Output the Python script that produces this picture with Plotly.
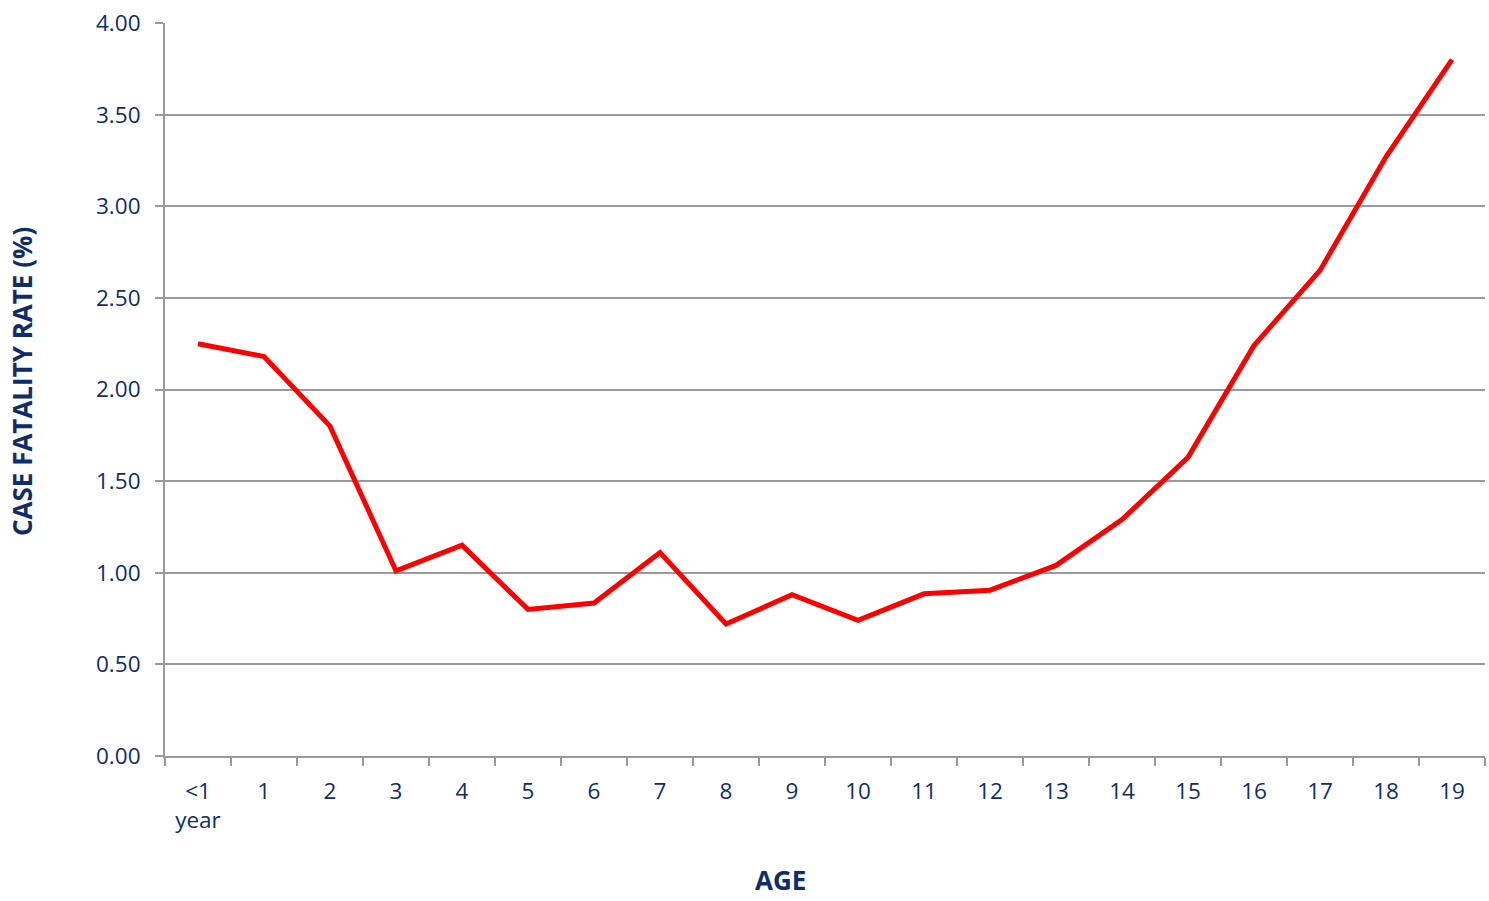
import plotly.graph_objects as go

categories = ["<1<br>year", "1", "2", "3", "4", "5", "6", "7", "8", "9", "10",
              "11", "12", "13", "14", "15", "16", "17", "18", "19"]
cfr = [2.25, 2.18, 1.80, 1.01, 1.15, 0.80, 0.835, 1.11, 0.72, 0.88, 0.74,
       0.885, 0.905, 1.04, 1.29, 1.63, 2.24, 2.65, 3.27, 3.80]
y_ticks = [0, 0.5, 1.0, 1.5, 2.0, 2.5, 3.0, 3.5, 4.0]

navy = "#0f2d6b"
grid = "#9a9a9a"
font_family = "Open Sans, Lato, sans-serif"

L, R, T, B = 165, 4, 23, 145
W, H = 1489, 901
pw, ph = W - L - R, H - T - B

fig = go.Figure()
fig.add_trace(go.Scatter(
    x=categories, y=cfr, mode="lines",
    line=dict(color="#ff0000", width=5),
    hoverinfo="skip", showlegend=False,
))

fig.update_layout(
    width=W, height=H,
    margin=dict(l=L, r=R, t=T, b=B),
    paper_bgcolor="white", plot_bgcolor="white",
    font=dict(family=font_family, color=navy, size=22),
    xaxis=dict(
        type="category", range=[-0.5, 19.5],
        showline=True, linecolor=grid, linewidth=2,
        ticks="outside", tickson="boundaries", ticklen=8, tickwidth=2, tickcolor=grid,
        showgrid=False, tickfont=dict(size=22.5, color=navy),
        ticklabelstandoff=14,
    ),
    yaxis=dict(
        range=[0, 4.0], tickvals=y_ticks, tickformat=".2f",
        showline=True, linecolor=grid, linewidth=2,
        ticks="outside", ticklen=8, tickwidth=2, tickcolor=grid,
        showgrid=True, gridcolor=grid, gridwidth=2,
        zeroline=False, tickfont=dict(size=22.5, color=navy),
        ticklabelstandoff=10,
    ),
    annotations=[
        dict(text="<b>AGE</b>", x=(780 - L) / pw, y=(H - B - 880) / ph,
             xref="paper", yref="paper", showarrow=False,
             xanchor="center", yanchor="middle", font=dict(size=26, color=navy)),
        dict(text="<b>CASE FATALITY RATE (%)</b>", x=(22 - L) / pw, y=(H - B - 382) / ph,
             xref="paper", yref="paper", showarrow=False, textangle=-90,
             xanchor="center", yanchor="middle", font=dict(size=26, color=navy)),
    ],
)

fig.write_html("out.html", config={"displayModeBar": False},
               post_script="document.body.style.margin='0px';document.body.style.overflow='hidden';")
